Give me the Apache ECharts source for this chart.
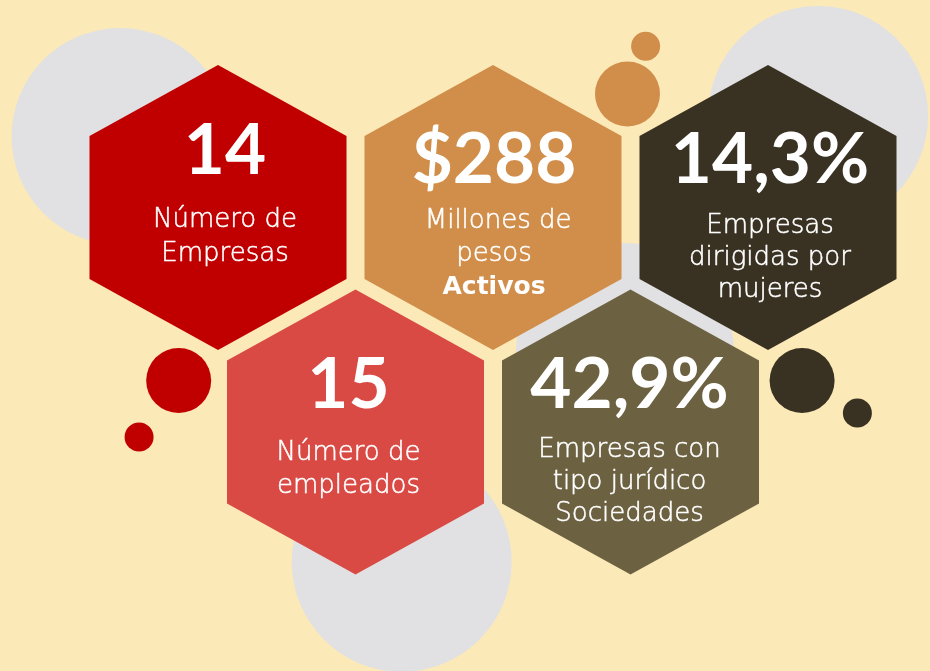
<!DOCTYPE html>
<html>
<head>
<meta charset="utf-8">
<script src="https://cdn.jsdelivr.net/npm/echarts@6/dist/echarts.min.js"></script>
<style>
html,body{margin:0;padding:0;background:#FCE9B8;}
#chart{width:930px;height:671px;}
</style>
</head>
<body>
<div id="chart"></div>
<script>
// ---- data ----
const statValues = ['14', '$288', '14,3%', '15', '42,9%'];
const statLabels = [
  ['Número de', 'Empresas'],
  [' Millones de', 'pesos', 'Activos'],
  ['Empresas', 'dirigidas por', 'mujeres'],
  ['Número de', 'empleados'],
  ['Empresas con', 'tipo jurídico', 'Sociedades']
];
const boldLabels = ['', 'Activos', '', '', ''];
// hex lattice position (column, row)
const hexCols = [0, 1, 2, 0.5, 1.5];
const hexRows = [0, 0, 0, 1, 1];

// ---- styles / layout ----
const hexColors = ['#C00000', '#D18E4A', '#393222', '#D94A45', '#6C6140'];
const textLayout = [
  {dx: 7, numDy: -56, lblDy: 13, gap: 34},
  {dx: 1, numDy: -47, lblDy: 13.5, gap: 33},
  {dx: 2, numDy: -47.5, lblDy: 18.5, gap: 32},
  {dx: -7, numDy: -47, lblDy: 21.5, gap: 33},
  {dx: -1, numDy: -46.5, lblDy: 18, gap: 32}
];
const decoCircles = [
  {pos: [-0.356, -0.316], d: 217, color: '#E1E1E3'},
  {pos: [2.182, -0.408], d: 220, color: '#E1E1E3'},
  {pos: [0.668, 1.578], d: 220, color: '#E1E1E3'},
  {pos: [1.48, 0.644], d: 218, color: '#E1E1E3'},
  {pos: [-0.143, 0.771], d: 65, color: '#C00000'},
  {pos: [-0.287, 1.022], d: 29, color: '#C00000'},
  {pos: [1.489, -0.506], d: 65, color: '#D18E4A'},
  {pos: [1.555, -0.718], d: 29, color: '#D18E4A'},
  {pos: [2.124, 0.771], d: 65, color: '#393222'},
  {pos: [2.325, 0.915], d: 29, color: '#393222'}
];
const HEX_HW = 128.5, HEX_R = 142.5, HEX_SIDE = 71.5;
const COL_PX = 275, ROW_PX = 224.5, ORIGIN_X = 218, ORIGIN_Y = 207.5;
const NUM_FONT = 'bold 71px Lato, "Noto Sans", sans-serif';
const LBL_FONT = '200 26px "DejaVu Sans ExtraLight", "DejaVu Sans", sans-serif';
const LBL_BOLD_FONT = 'bold 25px "DejaVu Sans", sans-serif';

const chart = echarts.init(document.getElementById('chart'), null, {renderer: 'canvas'});

const hexData = statValues.map((v, i) => [hexCols[i], hexRows[i], i]);

function renderHex(params, api) {
  const i = api.value(2);
  const c = api.coord([api.value(0), api.value(1)]);
  const cx = c[0], cy = c[1];
  const L = textLayout[i];
  const children = [{
    type: 'polygon',
    shape: {points: [
      [cx, cy - HEX_R], [cx + HEX_HW, cy - HEX_SIDE], [cx + HEX_HW, cy + HEX_SIDE],
      [cx, cy + HEX_R], [cx - HEX_HW, cy + HEX_SIDE], [cx - HEX_HW, cy - HEX_SIDE]
    ]},
    style: {fill: hexColors[i]}
  }, {
    type: 'text',
    x: cx + L.dx, y: cy + L.numDy,
    style: {text: statValues[i], fill: '#fff', font: NUM_FONT, align: 'center', verticalAlign: 'middle'}
  }];
  statLabels[i].forEach((t, k) => {
    const bold = t === boldLabels[i];
    children.push({
      type: 'text',
      x: cx + L.dx, y: cy + L.lblDy + k * L.gap,
      style: {
        text: t, fill: '#fff', font: bold ? LBL_BOLD_FONT : LBL_FONT,
        stroke: bold ? null : '#fff', lineWidth: bold ? 0 : 0.5,
        align: 'center', verticalAlign: 'middle'
      }
    });
  });
  return {type: 'group', children};
}

chart.setOption({
  backgroundColor: '#FCE9B8',
  animation: false,
  grid: {left: 0, right: 0, top: 0, bottom: 0},
  xAxis: {type: 'value', min: -ORIGIN_X / COL_PX, max: (930 - ORIGIN_X) / COL_PX, show: false},
  yAxis: {type: 'value', inverse: true, min: -ORIGIN_Y / ROW_PX, max: (671 - ORIGIN_Y) / ROW_PX, show: false},
  series: [{
    type: 'scatter',
    z: 1,
    silent: true,
    data: decoCircles.map(d => ({value: d.pos, symbolSize: d.d, itemStyle: {color: d.color, opacity: 1}}))
  }, {
    type: 'custom',
    z: 2,
    silent: true,
    renderItem: renderHex,
    data: hexData
  }]
});
</script>
</body>
</html>
